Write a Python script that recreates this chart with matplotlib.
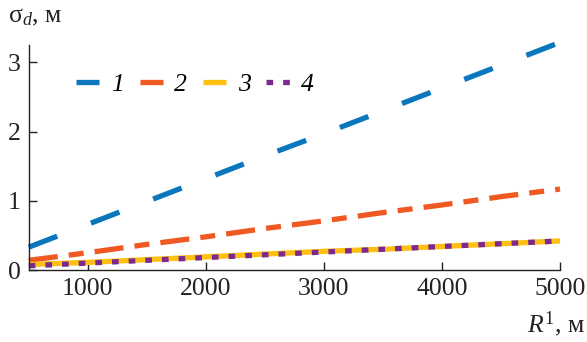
import matplotlib
matplotlib.use("Agg")
import matplotlib.pyplot as plt

plt.rcParams['font.family'] = ['Liberation Serif', 'DejaVu Serif']
plt.rcParams['mathtext.fontset'] = 'custom'
plt.rcParams['mathtext.rm'] = 'Liberation Serif'
plt.rcParams['mathtext.it'] = 'Liberation Serif:italic'
plt.rcParams['lines.scale_dashes'] = False

# Data
R = [500, 1000, 1500, 2000, 2500, 3000, 3500, 4000, 4500, 5000]
s1 = [0.33, 0.66, 0.99, 1.32, 1.65, 1.97, 2.30, 2.63, 2.96, 3.29]
s2 = [0.14, 0.25, 0.37, 0.48, 0.60, 0.71, 0.83, 0.94, 1.06, 1.17]
s3 = [0.08, 0.11, 0.15, 0.19, 0.23, 0.27, 0.30, 0.34, 0.38, 0.42]
s4 = [0.06, 0.10, 0.14, 0.18, 0.22, 0.26, 0.30, 0.34, 0.38, 0.42]
labels = ['1', '2', '3', '4']
xticks = [1000, 2000, 3000, 4000, 5000]
yticks = [0, 1, 2, 3]

colors = ['#0a77bd', '#f05a22', '#fdc010', '#7a2a8e']
FS = 18.5

fig = plt.figure(figsize=(5.87, 3.42), dpi=100)
ax = fig.add_axes([0.049, 0.2105, 0.905, 0.6575])

lw = 3.8
l1, = ax.plot(R, s1, color=colors[0], lw=lw, dashes=(22, 26), dash_capstyle='butt', clip_on=False)
l2, = ax.plot(R, s2, color=colors[1], lw=lw, dashes=(21, 8, 10.8, 8), dash_capstyle='butt', clip_on=False)
l3, = ax.plot(R, s3, color=colors[2], lw=lw, solid_capstyle='butt', clip_on=False)
l4, = ax.plot(R, s4, color=colors[3], lw=lw, dashes=(4.8, 7.2), dash_capstyle='butt', clip_on=False)

ax.set_xlim(500, 5000)
ax.set_ylim(0, 3.25)
ax.set_xticks(xticks)
ax.set_yticks(yticks)
ax.set_xticklabels([str(v) for v in xticks])
ax.set_yticklabels([str(v) for v in yticks])
for s in ['top', 'right']:
    ax.spines[s].set_visible(False)
for s in ['left', 'bottom']:
    ax.spines[s].set_linewidth(1.0)
    ax.spines[s].set_color('#222222')
ax.tick_params(direction='in', length=5.5, width=1.0, labelsize=FS, colors='#222222')
ax.tick_params(axis='x', pad=6)
ax.tick_params(axis='y', pad=6)

leg = fig.legend([l1, l2, l3, l4], labels, loc='center left',
                 bbox_to_anchor=(0.1295, 0.7515), ncol=4, frameon=False,
                 borderpad=0, borderaxespad=0, handlelength=0.9,
                 handletextpad=0.45, columnspacing=0.62,
                 prop={'family': 'Liberation Serif', 'style': 'italic', 'size': FS})

fig.text(8 / 587, 1 - 22 / 342, r'σ$_d$, м', fontsize=FS, va='baseline', ha='left', color='#222222')
fig.text(585 / 587, 1 - 332 / 342, r'$R^1$, м', fontsize=FS, va='baseline', ha='right', color='#222222')

fig.savefig('out.png', dpi=100)
